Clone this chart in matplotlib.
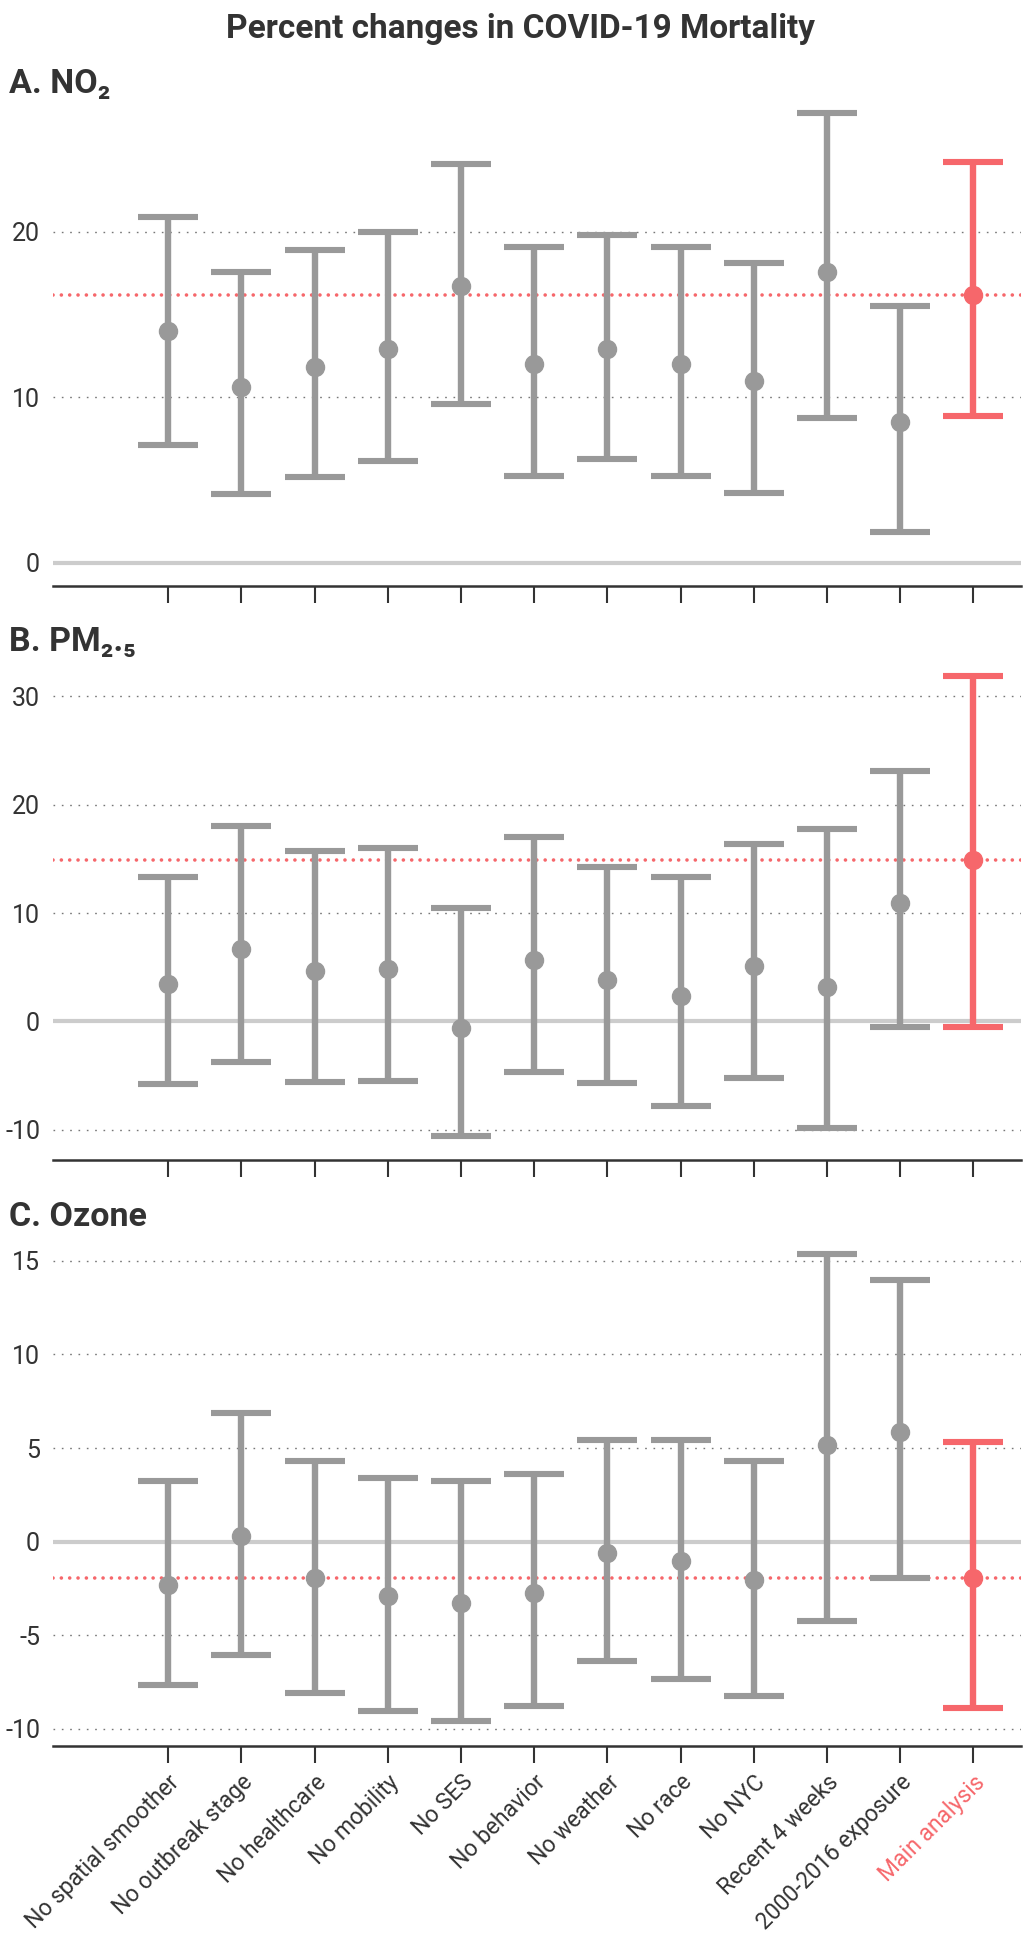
import matplotlib
matplotlib.use("Agg")
import matplotlib.pyplot as plt
import numpy as np

# ---------------- data ----------------
categories = ["No spatial smoother", "No outbreak stage", "No healthcare", "No mobility",
              "No SES", "No behavior", "No weather", "No race", "No NYC",
              "Recent 4 weeks", "2000-2016 exposure", "Main analysis"]

no2_est   = [13.98, 10.6, 11.85, 12.9, 16.7, 12.04, 12.9, 12.04, 11.0, 17.6, 8.5, 16.2]
no2_low   = [7.13, 4.17, 5.19, 6.16, 9.6, 5.25, 6.25, 5.25, 4.2, 8.77, 1.9, 8.9]
no2_high  = [20.9, 17.6, 18.9, 20.0, 24.1, 19.07, 19.8, 19.07, 18.1, 27.15, 15.5, 24.2]

pm25_est  = [3.43, 6.68, 4.63, 4.8, -0.6, 5.69, 3.85, 2.33, 5.12, 3.14, 10.88, 14.9]
pm25_low  = [-5.8, -3.78, -5.62, -5.5, -10.6, -4.63, -5.69, -7.8, -5.2, -9.86, -0.5, -0.5]
pm25_high = [13.36, 18.06, 15.72, 16.0, 10.46, 17.0, 14.24, 13.3, 16.4, 17.8, 23.07, 31.9]

o3_est    = [-2.33, 0.28, -1.97, -2.9, -3.26, -2.77, -0.6, -1.06, -2.07, 5.18, 5.83, -1.97]
o3_low    = [-7.67, -6.04, -8.08, -9.04, -9.59, -8.8, -6.4, -7.33, -8.26, -4.25, -1.97, -8.9]
o3_high   = [3.26, 6.89, 4.33, 3.39, 3.24, 3.63, 5.44, 5.44, 4.33, 15.39, 13.96, 5.31]

panel_titles = ["A. NO\u2082", "B. PM\u2082.\u2085", "C. Ozone"]
y_ticks = [[0, 10, 20], [-10, 0, 10, 20, 30], [-10, -5, 0, 5, 10, 15]]
y_lims = [(-1.36, 28.5), (-12.75, 34.0), (-10.9, 16.65)]

title = "Percent changes in COVID-19 Mortality"

# ---------------- style ----------------
GRAY = "#999999"
RED = "#F6676B"
TEXT = "#333333"
W, H = 1029, 1957
plt.rcParams['font.family'] = ['Roboto', 'DejaVu Sans']

fig = plt.figure(figsize=(W / 100, H / 100), dpi=100)

# axes boxes in pixels (left, top, right, bottom)
boxes = [(52.5, 91, 1021, 585.5), (52.5, 653, 1021, 1159.5), (52.5, 1230, 1021, 1745.6)]
label_y = [93, 651, 1226]

data = [(no2_est, no2_low, no2_high), (pm25_est, pm25_low, pm25_high), (o3_est, o3_low, o3_high)]
x = np.arange(len(categories))
colors = [GRAY] * (len(categories) - 1) + [RED]

for i, ((est, lo, hi), box) in enumerate(zip(data, boxes)):
    l, t, r, b = box
    ax = fig.add_axes([l / W, 1 - b / H, (r - l) / W, (b - t) / H])
    est = np.array(est); lo = np.array(lo); hi = np.array(hi)
    ax.set_xlim(-1.58, 11.65)
    ax.set_ylim(*y_lims[i])
    ax.set_yticks(y_ticks[i])
    ax.set_yticklabels([str(v) for v in y_ticks[i]])
    # gridlines
    for v in y_ticks[i]:
        if v != 0:
            ax.axhline(v, color="#777777", lw=1.0, dashes=(1.2, 4.8), zorder=1)
    ax.axhline(0, color="#cccccc", lw=3.0, zorder=1.5, solid_capstyle='butt')
    # reference (main analysis) line
    ax.axhline(est[-1], color=RED, lw=2.6, dashes=(0.01, 2.3), dash_capstyle='round', zorder=2)
    for j in range(len(categories)):
        ax.errorbar(x[j], est[j], yerr=[[est[j] - lo[j]], [hi[j] - est[j]]],
                    fmt='o', color=colors[j], ecolor=colors[j], elinewidth=4.6,
                    capsize=21.6, capthick=4.4, markersize=13, zorder=3)
    for s in ["top", "right", "left"]:
        ax.spines[s].set_visible(False)
    ax.spines["bottom"].set_color(TEXT)
    ax.spines["bottom"].set_linewidth(1.8)
    ax.tick_params(axis='y', length=0, pad=9, labelsize=18, labelcolor=TEXT)
    ax.tick_params(axis='x', length=12, width=1.5, color=TEXT, pad=6)
    ax.set_xticks(x)
    if i == 2:
        ax.set_xticklabels(categories, rotation=45, ha='right', va='top',
                           rotation_mode='anchor', fontsize=16.5, color=TEXT)
        ax.get_xticklabels()[-1].set_color(RED)
    else:
        ax.set_xticklabels([])
    fig.text(9 / W, 1 - label_y[i] / H, panel_titles[i], fontsize=24.5, fontweight='bold',
             color=TEXT, ha='left', va='baseline')

fig.text(520 / W, 1 - 38 / H, title, fontsize=24, fontweight='bold', color=TEXT,
         ha='center', va='baseline')

fig.savefig("out.png", dpi=100, facecolor="white")
